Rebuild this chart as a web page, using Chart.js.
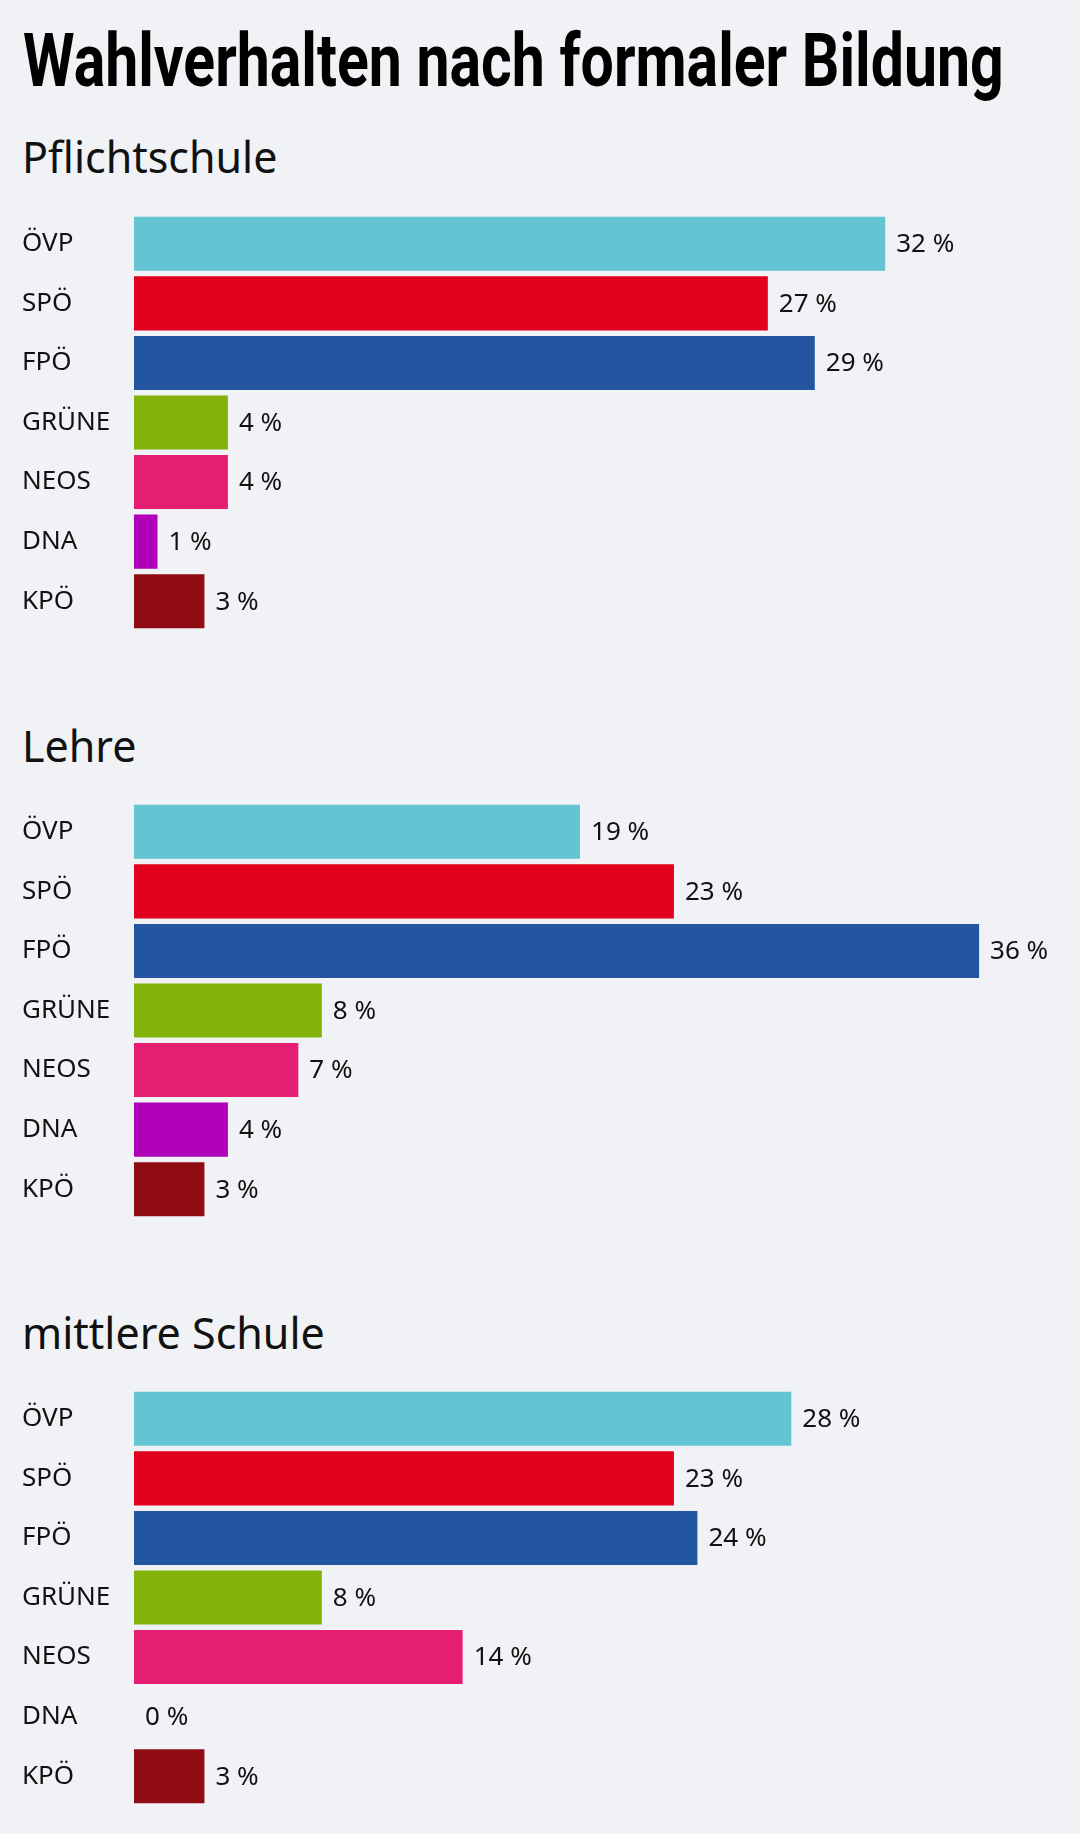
<!DOCTYPE html>
<html lang="de">
<head>
    <meta charset="UTF-8">
    <title>Wahlverhalten nach formaler Bildung</title>
    <script src="https://cdn.jsdelivr.net/npm/chart.js"></script>
    <style>
        html, body { margin: 0; padding: 0; }
        body {
            width: 1080px;
            height: 1834px;
            background: #f0f2f6;
            position: relative;
            overflow: hidden;
            font-family: "Noto Sans", sans-serif;
            color: #111;
        }
        h1 {
            position: absolute;
            left: 23px;
            top: 24px;
            margin: 0;
            font-family: "Roboto", "Liberation Sans", sans-serif;
            font-weight: bold;
            font-size: 74px;
            line-height: 1;
            color: #000;
            white-space: nowrap;
            transform-origin: 0 0;
        }
        h2 {
            position: absolute;
            left: 22px;
            margin: 0;
            font-weight: normal;
            font-size: 43px;
            line-height: 1;
            white-space: nowrap;
        }
        .chart {
            position: absolute;
            left: 0;
            width: 1080px;
            height: 417px;
        }
    </style>
</head>
<body>
    <h1 id="title">Wahlverhalten nach formaler Bildung</h1>
    <script>
        // Daten
        const parties = ['ÖVP', 'SPÖ', 'FPÖ', 'GRÜNE', 'NEOS', 'DNA', 'KPÖ'];
        const groups = ['Pflichtschule', 'Lehre', 'mittlere Schule'];
        const pflichtschule = [32, 27, 29, 4, 4, 1, 3];
        const lehre = [19, 23, 36, 8, 7, 4, 3];
        const mittlereSchule = [28, 23, 24, 8, 14, 0, 3];
        const groupValues = [pflichtschule, lehre, mittlereSchule];

        const partyColors = ['#65c4d2', '#e2001d', '#2455a1', '#82b20a', '#e61e73', '#b100b9', '#8e0c12'];

        // Layout
        const headingTops = [135, 724, 1311];
        const chartTops = [213.5, 801.5, 1388.5];

        // Titel schmal laufen lassen (keine Condensed-Schrift vorhanden)
        const title = document.getElementById('title');
        title.style.transform = 'scaleX(' + (981 / title.offsetWidth) + ')';

        // Prozentwerte rechts neben den Balken
        const valueLabels = {
            id: 'valueLabels',
            afterDatasetsDraw(chart) {
                const ctx = chart.ctx;
                const meta = chart.getDatasetMeta(0);
                const values = chart.data.datasets[0].data;
                ctx.save();
                ctx.font = '26px "Noto Sans", sans-serif';
                ctx.fillStyle = '#111';
                ctx.textAlign = 'left';
                ctx.textBaseline = 'middle';
                meta.data.forEach((bar, i) => {
                    ctx.fillText(values[i] + ' %', bar.x + 11, bar.y + 1);
                });
                ctx.restore();
            }
        };

        groups.forEach((name, g) => {
            const h2 = document.createElement('h2');
            h2.textContent = name;
            h2.style.top = headingTops[g] + 'px';
            document.body.appendChild(h2);

            const box = document.createElement('div');
            box.className = 'chart';
            box.style.top = chartTops[g] + 'px';
            const canvas = document.createElement('canvas');
            box.appendChild(canvas);
            document.body.appendChild(box);

            new Chart(canvas.getContext('2d'), {
                type: 'bar',
                data: {
                    labels: parties,
                    datasets: [{
                        data: groupValues[g],
                        backgroundColor: partyColors,
                        borderWidth: 0,
                        categoryPercentage: 1,
                        barPercentage: 0.908
                    }]
                },
                options: {
                    indexAxis: 'y',
                    responsive: true,
                    maintainAspectRatio: false,
                    animation: false,
                    layout: { padding: { left: 22, right: 7, top: 0, bottom: 0 } },
                    plugins: {
                        legend: { display: false },
                        tooltip: { enabled: false }
                    },
                    scales: {
                        x: {
                            display: false,
                            min: 0,
                            max: 40
                        },
                        y: {
                            grid: { display: false },
                            border: { display: false },
                            ticks: {
                                crossAlign: 'far',
                                padding: 0,
                                color: '#111',
                                font: { family: '"Noto Sans", sans-serif', size: 26 }
                            },
                            afterFit(scale) {
                                scale.width = 112;
                                scale.paddingTop = 0;
                                scale.paddingBottom = 0;
                            }
                        }
                    }
                },
                plugins: [valueLabels]
            });
        });
    </script>
</body>
</html>
